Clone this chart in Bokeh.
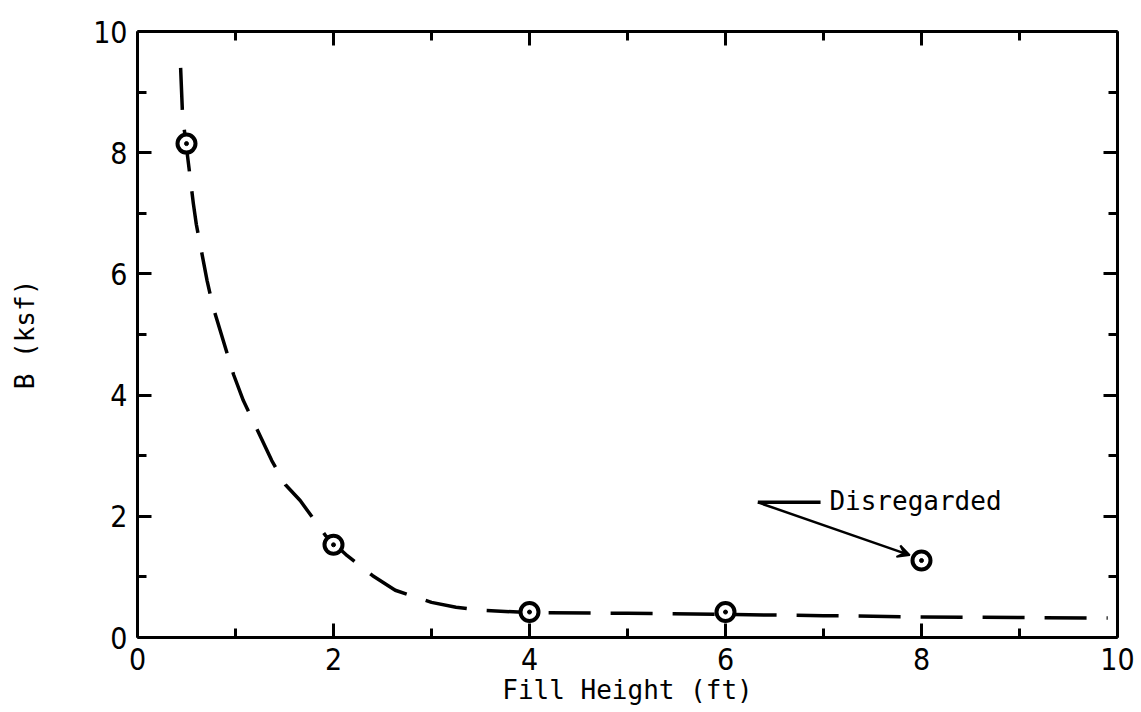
from bokeh.plotting import figure
from bokeh.models import (LinearAxis, FixedTicker, Range1d, Arrow, VeeHead,
                          Label)
from bokeh.embed import file_html
from bokeh.resources import INLINE

# ---- data ----
curve_x = [0.44, 0.46, 0.52, 0.57, 0.60, 0.71, 0.77, 0.98, 1.08, 1.37, 1.51, 1.66,
           1.92, 2.14, 2.40, 2.63, 3.0, 3.25, 3.5, 4.0, 5.0, 6.0, 7.0, 8.0, 9.0, 9.9]
curve_y = [9.40, 8.61, 7.82, 7.16, 6.82, 5.89, 5.46, 4.34, 3.91, 2.92, 2.52, 2.26,
           1.68, 1.35, 1.02, 0.78, 0.58, 0.50, 0.45, 0.41, 0.40, 0.38, 0.36, 0.34, 0.33, 0.32]

pts_x = [0.5, 2.0, 4.0, 6.0]
pts_y = [8.15, 1.53, 0.42, 0.42]

disc_x = [8.0]
disc_y = [1.27]

x_ticks = [0, 2, 4, 6, 8, 10]
x_minor = [1, 3, 5, 7, 9]
y_ticks = [0, 2, 4, 6, 8, 10]
y_minor = [1, 3, 5, 7, 9]

note_text = "Disregarded"
x_label = "Fill Height (ft)"
y_label = "B (ksf)"

MONO = "DejaVu Sans Mono"
NARROW = "Liberation Sans Narrow, DejaVu Sans Condensed, DejaVu Sans Mono"

p = figure(width=1141, height=712, output_backend="svg", toolbar_location=None,
           x_range=Range1d(0, 10), y_range=Range1d(0, 10),
           x_axis_location=None, y_axis_location=None,
           min_border_left=137, min_border_right=24, min_border_top=31,
           min_border_bottom=75)
p.grid.visible = False
p.outline_line_color = None
p.background_fill_color = "white"
p.border_fill_color = "white"


def style_axis(ax, ticks, minor, show_labels):
    ax.ticker = FixedTicker(ticks=ticks, minor_ticks=minor)
    ax.axis_line_width = 3
    ax.axis_line_color = "black"
    ax.major_tick_in = 14
    ax.major_tick_out = 0
    ax.minor_tick_in = 9
    ax.minor_tick_out = 0
    ax.major_tick_line_width = 3
    ax.minor_tick_line_width = 3
    ax.major_tick_line_color = "black"
    ax.minor_tick_line_color = "black"
    if show_labels:
        ax.major_label_text_font = NARROW
        ax.major_label_text_font_size = "30px"
        ax.major_label_text_color = "black"
        ax.major_label_standoff = 10
    else:
        ax.major_label_text_font_size = "0px"
        ax.major_label_text_alpha = 0


xb = LinearAxis()
style_axis(xb, x_ticks, x_minor, True)
xb.axis_label = x_label
xb.axis_label_text_font = MONO
xb.axis_label_text_font_size = "26px"
xb.axis_label_text_font_style = "normal"
xb.axis_label_text_color = "black"
xb.axis_label_standoff = 2
p.add_layout(xb, "below")

yl = LinearAxis()
style_axis(yl, y_ticks, y_minor, True)
yl.axis_label = y_label
yl.axis_label_text_font = MONO
yl.axis_label_text_font_size = "26px"
yl.axis_label_text_font_style = "normal"
yl.axis_label_text_color = "black"
yl.axis_label_standoff = 50
p.add_layout(yl, "left")

xt = LinearAxis()
style_axis(xt, x_ticks, x_minor, False)
p.add_layout(xt, "above")

yr = LinearAxis()
style_axis(yr, y_ticks, y_minor, False)
p.add_layout(yr, "right")

# dashed fitted curve
p.line(curve_x, curve_y, line_color="black", line_width=3.5, line_dash="42 20",
       line_join="round")

# data points (circle with dot)
allx = pts_x + disc_x
ally = pts_y + disc_y
p.scatter(allx, ally, marker="circle", size=18, fill_color="white",
          line_color="black", line_width=4)
p.scatter(allx, ally, marker="circle", size=4, fill_color="black",
          line_color="black")

# annotation
p.segment(x0=[6.33], y0=[2.23], x1=[6.97], y1=[2.23], line_color="black",
          line_width=3.5)
p.add_layout(Arrow(end=VeeHead(size=12, line_color="black", fill_color="black",
                                line_width=2),
                   x_start=6.33, y_start=2.23, x_end=7.88, y_end=1.36,
                   line_color="black", line_width=2.5))
p.add_layout(Label(x=7.06, y=2.26, text=note_text, text_font=MONO,
                   text_font_size="26px", text_baseline="middle",
                   text_align="left", text_color="black"))

open("out.html", "w").write(file_html(p, INLINE))
